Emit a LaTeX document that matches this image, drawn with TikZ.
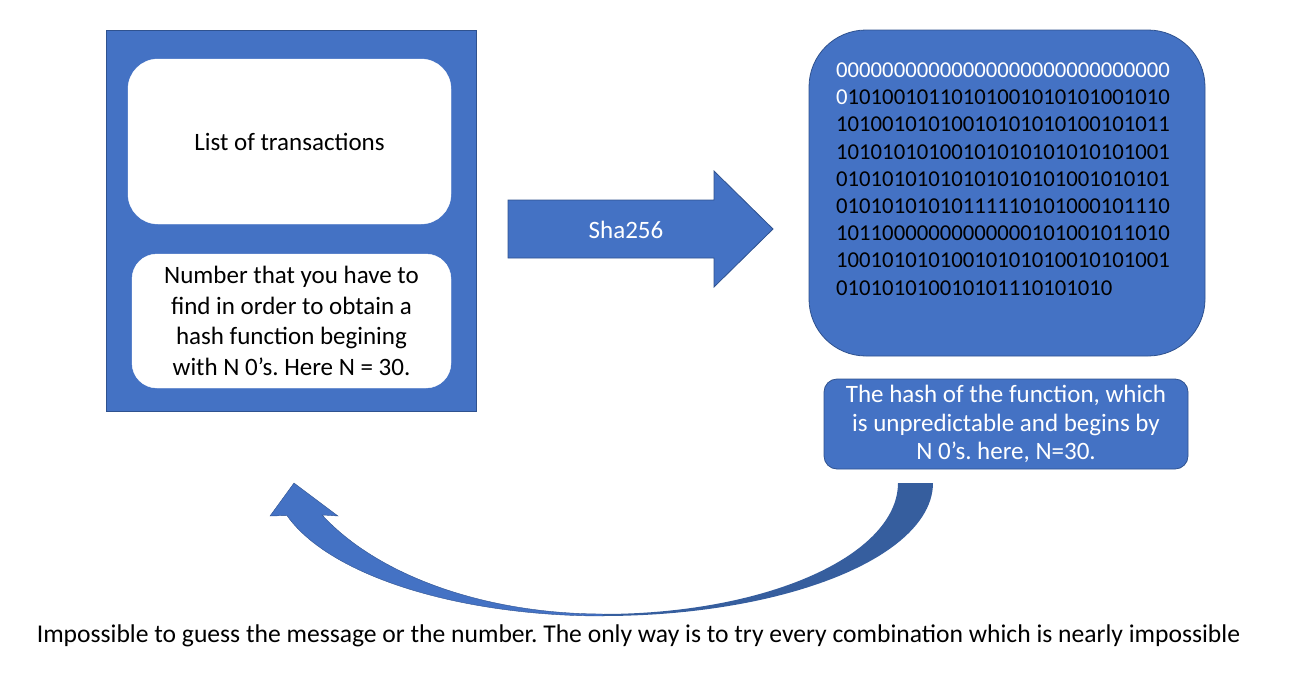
\documentclass[tikz,border=0pt]{standalone}
\usepackage{fontspec}
\setmainfont{Carlito}
\definecolor{pblue}{HTML}{4472C4}
\definecolor{pedge}{HTML}{2F528F}
\definecolor{pdark}{HTML}{365E9E}
\begin{document}
\frenchspacing
\begin{tikzpicture}[x=1pt,y=-1pt,
  bluebox/.style={fill=pblue,draw=pedge,line width=0.8pt,inner sep=0pt},
  whitebox/.style={fill=white,draw=white,inner sep=0pt},
  txt/.style={font=\fontsize{25}{30.5}\selectfont, align=center, inner sep=0pt}
]
\useasboundingbox (0,0) rectangle (1295,675);

% left block
\node[bluebox, minimum width=370pt, minimum height=381pt] (block) at (291,220.5) {};
\node[whitebox, txt, rounded corners=30pt, minimum width=323pt, minimum height=165pt] (txlist) at (289.5,141.5) {List of transactions};
\node[whitebox, txt, rounded corners=25pt, minimum width=319pt, minimum height=134pt] (nonce) at (291.5,321) {Number that you have to\\find in order to obtain a\\hash function begining\\with N 0’s. Here N = 30.};

% sha arrow
\fill[pblue,draw=pedge,line width=0.8pt] (508,200) -- (714,200) -- (714,171) -- (773,229) -- (714,287) -- (714,258) -- (508,258) -- cycle;
\node[txt, text=white] (sha) at (626,230) {Sha256};

% hash box
\node[bluebox, rounded corners=57pt, minimum width=396pt, minimum height=326pt] (hash) at (1007,193) {};
\node[anchor=base west, inner sep=0pt, align=left, font=\fontsize{22.7}{27.2}\selectfont] (bits) at (836,295)
{\textcolor{white}{00000000000000000000000000000}\\
\textcolor{white}{0}1010010110101001010101001010\\
10100101010010101010100101011\\
10101010100101010101010101001\\
01010101010101010101001010101\\
01010101010111110101000101110\\
10110000000000000101001011010\\
10010101010010101010010101001\\
010101010010101110101010};

% caption
\node[bluebox, txt, text=white, font=\fontsize{25}{28.5}\selectfont, rounded corners=13pt, minimum width=364pt, minimum height=90pt] (caption) at (1006,424) {The hash of the function, which\\is unpredictable and begins by\\N 0’s. here, N=30.};

% curved arrow
\fill[pblue,draw=pedge,line width=0.4pt]
  plot[domain=163.3:90, samples=50, variable=\t] ({603+330*cos(\t)},{475+141*sin(\t)})
  -- plot[domain=90:151.4, samples=50, variable=\t] ({603+320*cos(\t)},{424+190*sin(\t)})
  -- (338,516) -- (294,483) -- (270,516) -- cycle;
\fill[pdark]
  plot[domain=90:0, samples=50, variable=\t] ({603+330*cos(\t)},{483+133*sin(\t)})
  -- plot[domain=0:90, samples=50, variable=\t] ({603+295*cos(\t)},{483+131*sin(\t)})
  -- cycle;

% bottom note
\node[inner sep=0pt, font=\fontsize{25.6}{30}\selectfont] (note) at (638.5,636) {Impossible to guess the message or the number. The only way is to try every combination which is nearly impossible};
\end{tikzpicture}
\end{document}
